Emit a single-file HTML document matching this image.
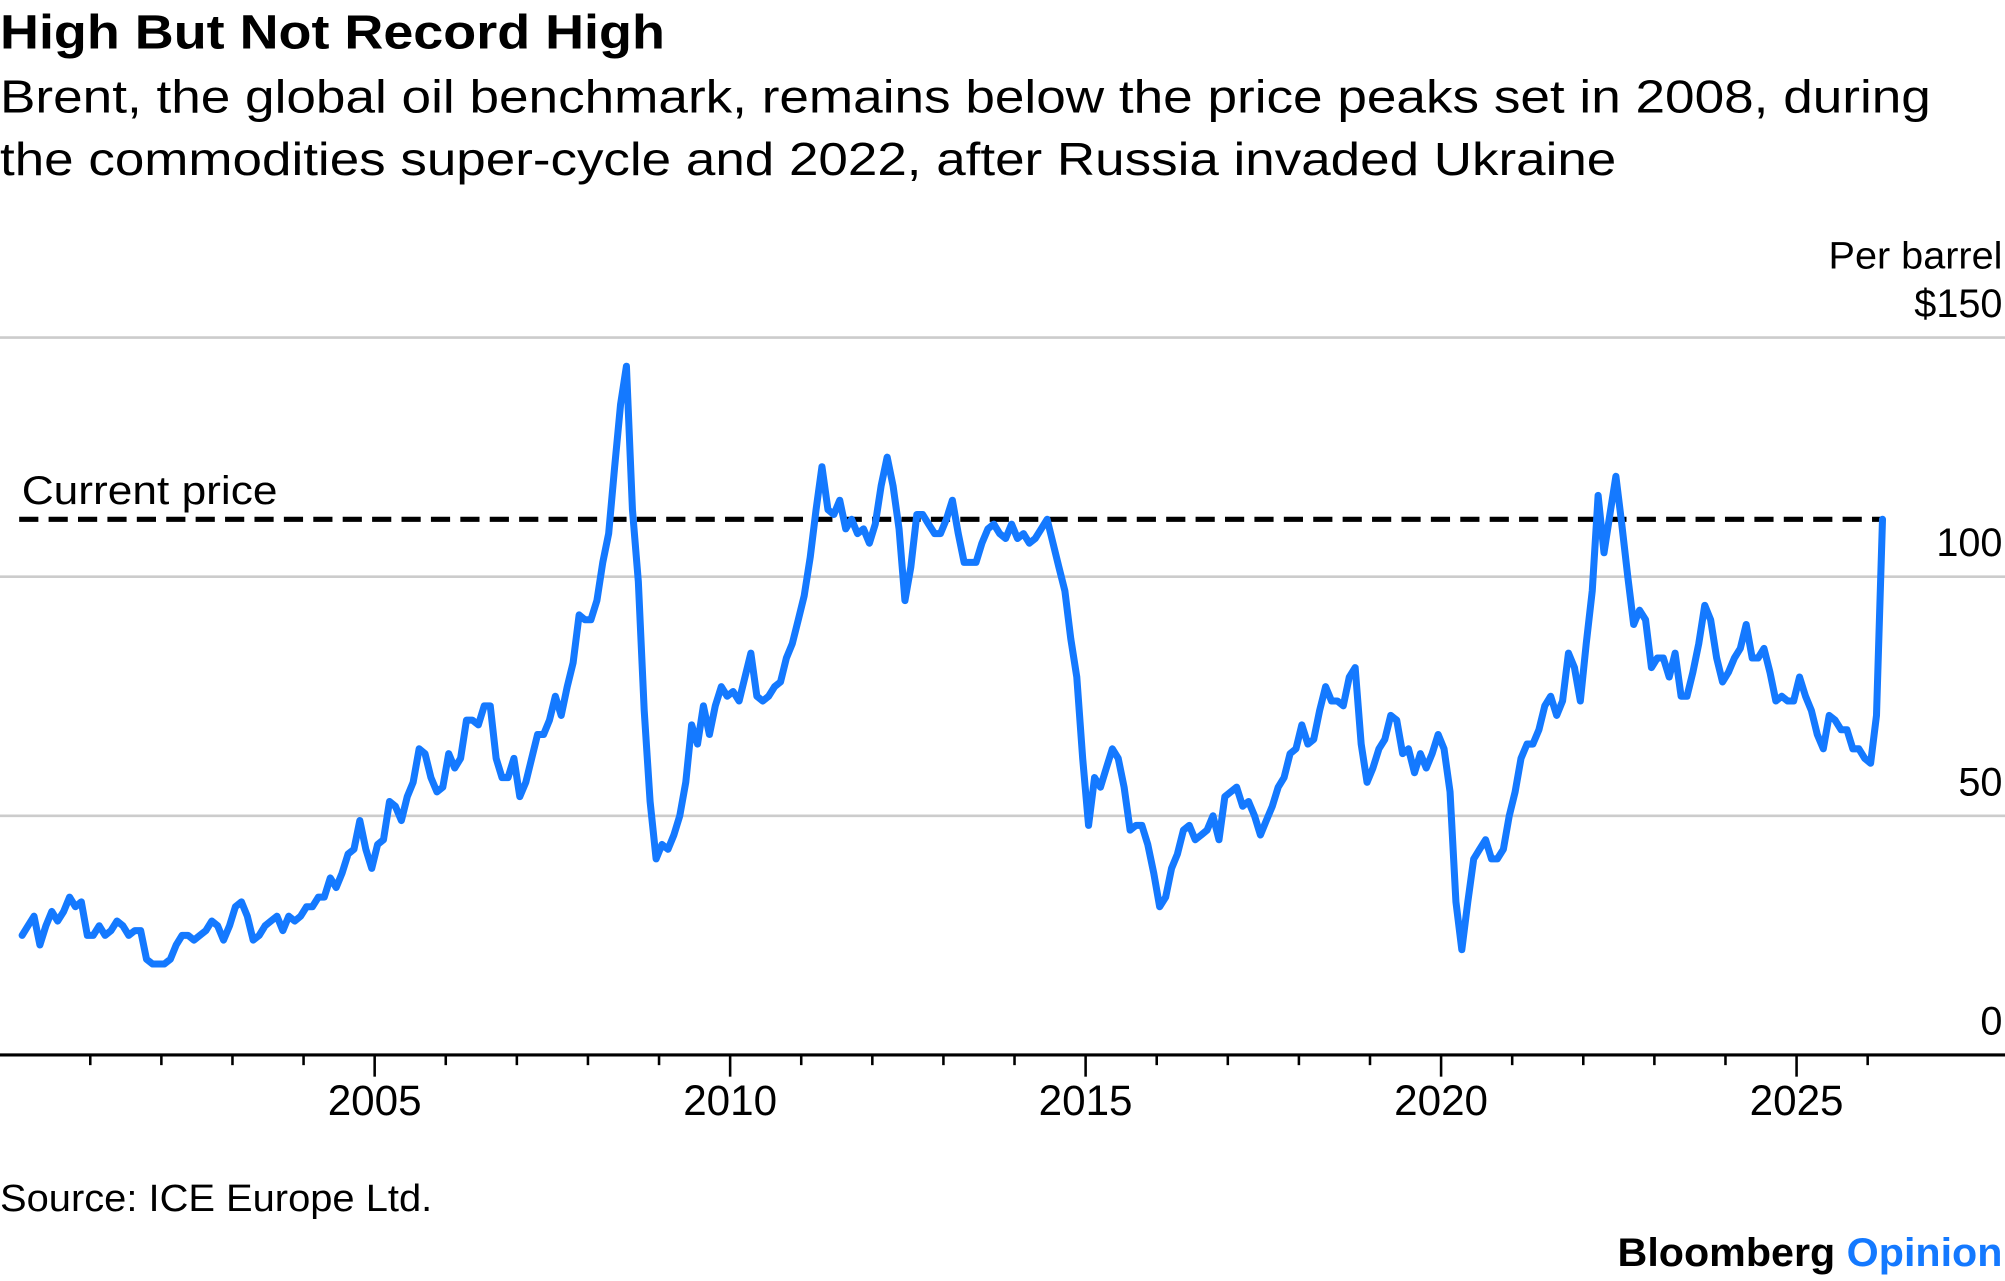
<!DOCTYPE html>
<html><head><meta charset="utf-8"><style>
html,body{margin:0;padding:0;background:#fff;}
svg{display:block;}
text{font-family:"Liberation Sans",sans-serif;fill:#000;}
</style></head><body>
<svg id="chart" width="2005" height="1281" viewBox="0 0 1568 1001.8" xmlns="http://www.w3.org/2000/svg">
<text x="0" y="38" font-size="38" font-weight="bold" textLength="520" lengthAdjust="spacingAndGlyphs">High But Not Record High</text>
<text x="0" y="88" font-size="36" textLength="1510" lengthAdjust="spacingAndGlyphs">Brent, the global oil benchmark, remains below the price peaks set in 2008, during</text>
<text x="0" y="137" font-size="36" textLength="1264" lengthAdjust="spacingAndGlyphs">the commodities super-cycle and 2022, after Russia invaded Ukraine</text>
<text x="1566" y="210" font-size="30" text-anchor="end" textLength="136" lengthAdjust="spacingAndGlyphs">Per barrel</text>
<g id="grid"></g>
<g id="xaxis"></g>
<text x="17" y="394" font-size="31" textLength="200" lengthAdjust="spacingAndGlyphs">Current price</text>
<line id="cur" x1="15" x2="1473" stroke="#000" stroke-width="4" stroke-dasharray="15 8"/>
<path id="series" fill="none" stroke="#1479ff" stroke-width="5.5" stroke-linejoin="round" stroke-linecap="round"/>
<text x="0" y="947" font-size="30" textLength="338" lengthAdjust="spacingAndGlyphs">Source: ICE Europe Ltd.</text>
<text x="1566" y="990" font-size="31" font-weight="bold" text-anchor="end" textLength="301" lengthAdjust="spacingAndGlyphs">Bloomberg <tspan fill="#1479ff" style="fill:#1479ff">Opinion</tspan></text>
</svg>
<script>
const yTicks=[0,50,100,150];
const yTickLabels=["0","50","100","$150"];
const xMajorYears=[2005,2010,2015,2020,2025];
const startYear=2000;
const currentPrice=112;
const prices=[
25,27,29,23,27,30,28,30,33,31,32,25,
25,27,25,26,28,27,25,26,26,20,19,19,
19,20,23,25,25,24,25,26,28,27,24,27,
31,32,29,24,25,27,28,29,26,29,28,29,
31,31,33,33,37,35,38,42,43,49,43,39,
44,45,53,52,49,54,57,64,63,58,55,56,
63,60,62,70,70,69,73,73,62,58,58,62,
54,57,62,67,67,70,75,71,77,82,92,91,
91,95,103,109,123,136,144,114,99,72,53,41,
44,43,46,50,57,69,65,73,67,73,77,75,
76,74,79,84,75,74,75,77,78,83,86,91,
96,104,114,123,114,113,116,110,112,109,110,107,
111,119,125,119,110,95,102,113,113,111,109,109,
112,116,109,103,103,103,107,110,111,109,108,111,
108,109,107,108,110,112,107,102,97,87,79,62,
48,58,56,60,64,62,56,47,48,48,44,38,
31,33,39,42,47,48,45,46,47,50,45,54,
55,56,52,53,50,46,49,52,56,58,63,64,
69,65,66,72,77,74,74,73,79,81,65,57,
60,64,66,71,70,63,64,59,63,60,63,67,
64,55,32,22,32,41,43,45,41,41,43,50,
55,62,65,65,68,73,75,71,74,84,81,74,
86,97,117,105,113,121,111,100,90,93,91,81,
83,83,79,84,75,75,80,86,94,91,83,78,
80,83,85,90,83,83,85,80,74,75,74,74,
79,75,72,67,64,71,70,68,68,64,64,62,
61,71,112];
const NS="http://www.w3.org/2000/svg";
function xScale(yr){return 15+(yr-2000)*55.6;}
function yScale(v){return 825-v*3.74;}
const grid=document.getElementById('grid');
yTicks.forEach((t,i)=>{
  if(t>0){const l=document.createElementNS(NS,'line');
  
  
  l.setAttribute('x1',0);l.setAttribute('x2',1568);l.setAttribute('y1',yScale(t));l.setAttribute('y2',yScale(t));
  l.setAttribute('stroke','#cccccc');l.setAttribute('stroke-width','2');grid.appendChild(l);}
  const tx=document.createElementNS(NS,'text');
  
  
  tx.setAttribute('x',1566);tx.setAttribute('y',yScale(t)-16);tx.setAttribute('font-size','31');tx.setAttribute('text-anchor','end');
  tx.textContent=yTickLabels[i];grid.appendChild(tx);
});
const xa=document.getElementById('xaxis');
const ax=document.createElementNS(NS,'line');


ax.setAttribute('x1',0);ax.setAttribute('x2',1568);ax.setAttribute('y1',825);ax.setAttribute('y2',825);ax.setAttribute('stroke','#000');ax.setAttribute('stroke-width','2.5');xa.appendChild(ax);
for(let yr=2001;yr<=2026;yr++){
  const major=xMajorYears.includes(yr);
  const t=document.createElementNS(NS,'line');
  
  
  t.setAttribute('x1',xScale(yr));t.setAttribute('x2',xScale(yr));t.setAttribute('y1',825);t.setAttribute('y2',major?842:833);
  t.setAttribute('stroke','#000');t.setAttribute('stroke-width','2');xa.appendChild(t);
}
xMajorYears.forEach(yr=>{
  const tx=document.createElementNS(NS,'text');
  
  
  tx.setAttribute('x',xScale(yr));tx.setAttribute('y',872);tx.setAttribute('font-size','33');tx.setAttribute('text-anchor','middle');
  tx.textContent=yr;xa.appendChild(tx);
});
const cur=document.getElementById('cur');
cur.setAttribute('y1',yScale(currentPrice));cur.setAttribute('y2',yScale(currentPrice));
let d='';
prices.forEach((v,i)=>{const yr=startYear+i/12+1/24;d+=(i?'L':'M')+xScale(yr).toFixed(1)+' '+yScale(v).toFixed(1);});
document.getElementById('series').setAttribute('d',d);
</script>
</body></html>
